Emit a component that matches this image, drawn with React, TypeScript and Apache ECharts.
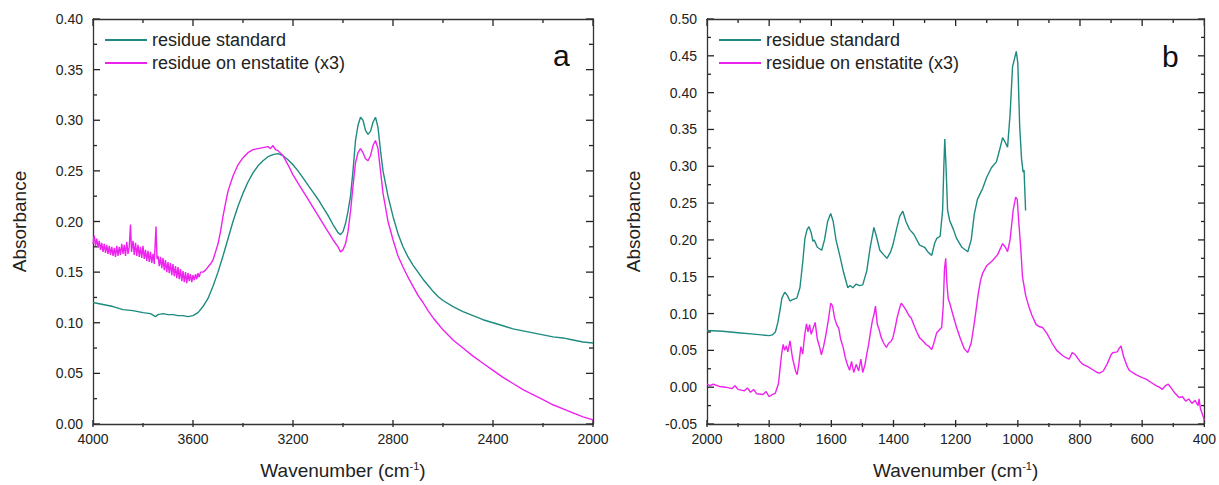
import React, { useEffect, useRef } from "react";
import * as echarts from "echarts";

// ---------- DATA ----------
const seriesNames = ["residue standard", "residue on enstatite (x3)"];
const panelLabels = ["a", "b"];

// Panel a: 4000–2000 cm-1, [wavenumber, absorbance]
const aStandard: [number, number][] = [
  [4000, 0.120], [3960, 0.118], [3920, 0.116], [3880, 0.113], [3840, 0.112], [3800, 0.110],
  [3770, 0.109], [3750, 0.106], [3740, 0.108], [3720, 0.109], [3700, 0.108], [3680, 0.108],
  [3660, 0.107], [3640, 0.107], [3620, 0.106], [3600, 0.107], [3580, 0.110], [3560, 0.116],
  [3540, 0.124], [3520, 0.136], [3500, 0.150], [3480, 0.166], [3460, 0.183], [3440, 0.200],
  [3420, 0.215], [3400, 0.228], [3380, 0.239], [3360, 0.248], [3340, 0.255], [3320, 0.260],
  [3300, 0.264], [3280, 0.266], [3260, 0.267], [3240, 0.265], [3220, 0.261], [3200, 0.256],
  [3180, 0.250], [3160, 0.243], [3140, 0.236], [3120, 0.229], [3100, 0.222], [3080, 0.214],
  [3060, 0.206], [3040, 0.197], [3020, 0.189], [3010, 0.187], [3000, 0.190], [2990, 0.198],
  [2980, 0.210], [2970, 0.225], [2960, 0.250], [2950, 0.280], [2940, 0.295], [2930, 0.303],
  [2920, 0.300], [2910, 0.290], [2900, 0.286], [2890, 0.289], [2880, 0.298], [2870, 0.303],
  [2860, 0.293], [2850, 0.270], [2840, 0.250], [2820, 0.225], [2800, 0.205], [2780, 0.188],
  [2760, 0.175], [2740, 0.165], [2720, 0.157], [2700, 0.150], [2680, 0.143], [2660, 0.137],
  [2640, 0.131], [2620, 0.126], [2600, 0.122], [2560, 0.116], [2520, 0.111], [2480, 0.107],
  [2440, 0.103], [2400, 0.100], [2360, 0.097], [2320, 0.094], [2280, 0.092], [2240, 0.090],
  [2200, 0.088], [2160, 0.086], [2120, 0.085], [2080, 0.083], [2040, 0.081], [2000, 0.080],
];

const aEnstatite: [number, number][] = [
  [4000, 0.178], [3995, 0.186], [3990, 0.176], [3985, 0.183], [3980, 0.174], [3975, 0.181],
  [3970, 0.172], [3965, 0.179], [3960, 0.170], [3955, 0.178], [3950, 0.169], [3945, 0.177],
  [3940, 0.168], [3935, 0.176], [3930, 0.167], [3925, 0.175], [3920, 0.166], [3915, 0.174],
  [3910, 0.165], [3905, 0.176], [3900, 0.166], [3895, 0.175], [3890, 0.167], [3885, 0.178],
  [3880, 0.168], [3875, 0.177], [3870, 0.166], [3865, 0.180], [3860, 0.168], [3855, 0.175],
  [3850, 0.197], [3846, 0.170], [3840, 0.181], [3835, 0.167], [3830, 0.179], [3825, 0.166],
  [3820, 0.177], [3815, 0.165], [3810, 0.175], [3805, 0.164], [3800, 0.176], [3795, 0.163],
  [3790, 0.172], [3785, 0.161], [3780, 0.171], [3775, 0.160], [3770, 0.170], [3765, 0.159],
  [3760, 0.168], [3755, 0.158], [3748, 0.195], [3744, 0.163], [3740, 0.166], [3735, 0.156],
  [3730, 0.165], [3725, 0.154], [3720, 0.164], [3715, 0.152], [3710, 0.162], [3705, 0.150],
  [3700, 0.160], [3695, 0.149], [3690, 0.159], [3685, 0.147], [3680, 0.158], [3675, 0.146],
  [3670, 0.156], [3665, 0.144], [3660, 0.155], [3655, 0.143], [3650, 0.153], [3645, 0.141],
  [3640, 0.151], [3635, 0.140], [3630, 0.150], [3625, 0.139], [3620, 0.149], [3615, 0.141],
  [3610, 0.148], [3605, 0.140], [3600, 0.147], [3595, 0.142], [3590, 0.148], [3585, 0.143],
  [3580, 0.149], [3575, 0.145], [3570, 0.150], [3560, 0.150], [3550, 0.152],
  [3540, 0.155], [3530, 0.158], [3520, 0.162], [3510, 0.170], [3500, 0.178], [3490, 0.190],
  [3480, 0.205], [3470, 0.218], [3460, 0.230], [3440, 0.245], [3420, 0.256], [3400, 0.263],
  [3380, 0.268], [3360, 0.271], [3340, 0.272], [3320, 0.273], [3300, 0.274], [3290, 0.272],
  [3280, 0.275], [3270, 0.271], [3260, 0.270], [3240, 0.265], [3220, 0.256], [3200, 0.246],
  [3180, 0.238], [3160, 0.230], [3140, 0.222], [3120, 0.214], [3100, 0.206], [3080, 0.198],
  [3060, 0.190], [3040, 0.182], [3020, 0.175], [3010, 0.170], [3000, 0.172], [2990, 0.178],
  [2980, 0.190], [2970, 0.210], [2960, 0.235], [2950, 0.258], [2940, 0.268], [2930, 0.272],
  [2920, 0.268], [2910, 0.262], [2900, 0.260], [2890, 0.265], [2880, 0.275], [2870, 0.280],
  [2860, 0.272], [2850, 0.250], [2840, 0.228], [2820, 0.200], [2800, 0.182], [2780, 0.166],
  [2760, 0.155], [2740, 0.145], [2720, 0.136], [2700, 0.127], [2680, 0.120], [2660, 0.112],
  [2640, 0.105], [2620, 0.099], [2600, 0.093], [2560, 0.083], [2520, 0.075], [2480, 0.067],
  [2440, 0.060], [2400, 0.053], [2360, 0.046], [2320, 0.040], [2280, 0.034], [2240, 0.029],
  [2200, 0.024], [2160, 0.019], [2120, 0.015], [2080, 0.011], [2040, 0.007], [2000, 0.004],
];

// Panel b: 2000–400 cm-1
const bStandard: [number, number][] = [
  [2000, 0.077], [1950, 0.076], [1900, 0.074], [1850, 0.072], [1800, 0.070], [1790, 0.071],
  [1780, 0.075], [1772, 0.088], [1765, 0.105], [1759, 0.121], [1750, 0.129], [1742, 0.125],
  [1733, 0.117], [1725, 0.119], [1711, 0.121], [1701, 0.135], [1692, 0.170], [1685, 0.202],
  [1678, 0.214], [1672, 0.218], [1665, 0.210], [1659, 0.198], [1655, 0.200], [1645, 0.190],
  [1631, 0.186], [1622, 0.200], [1612, 0.225], [1602, 0.236], [1594, 0.225], [1585, 0.200],
  [1573, 0.179], [1560, 0.155], [1547, 0.135], [1540, 0.138], [1531, 0.135], [1520, 0.140],
  [1510, 0.138], [1499, 0.139], [1486, 0.158], [1475, 0.190], [1463, 0.217], [1455, 0.205],
  [1444, 0.186], [1432, 0.180], [1421, 0.175], [1410, 0.183], [1402, 0.193], [1390, 0.215],
  [1380, 0.232], [1370, 0.239], [1360, 0.225], [1348, 0.214], [1335, 0.208], [1316, 0.193],
  [1300, 0.190], [1290, 0.184], [1277, 0.179], [1268, 0.195], [1261, 0.202], [1250, 0.205],
  [1242, 0.240], [1238, 0.300], [1235, 0.337], [1231, 0.300], [1226, 0.240], [1219, 0.226],
  [1208, 0.215], [1197, 0.202], [1180, 0.190], [1161, 0.184], [1150, 0.200], [1140, 0.235],
  [1130, 0.255], [1113, 0.270], [1100, 0.285], [1085, 0.298], [1069, 0.306], [1060, 0.320],
  [1049, 0.339], [1040, 0.332], [1033, 0.326], [1025, 0.370], [1017, 0.435], [1005, 0.456],
  [1000, 0.440], [994, 0.354], [988, 0.310], [983, 0.292], [980, 0.295], [975, 0.240],
];

const bEnstatite: [number, number][] = [
  [2000, 0.004], [1990, 0.002], [1980, 0.004], [1960, 0.001], [1940, 0.000], [1920, -0.002],
  [1910, 0.002], [1900, -0.003], [1880, -0.005], [1870, -0.001], [1860, -0.007], [1850, -0.003],
  [1840, -0.009], [1820, -0.010], [1810, -0.006], [1800, -0.013], [1790, -0.010], [1780, -0.008],
  [1770, 0.005], [1760, 0.045], [1755, 0.058], [1750, 0.050], [1745, 0.056], [1740, 0.048],
  [1733, 0.063], [1725, 0.040], [1715, 0.022], [1710, 0.017], [1705, 0.030], [1698, 0.055],
  [1692, 0.045], [1686, 0.070], [1680, 0.086], [1675, 0.075], [1670, 0.085], [1665, 0.072],
  [1660, 0.078], [1652, 0.088], [1645, 0.065], [1638, 0.055], [1632, 0.044], [1625, 0.055],
  [1618, 0.070], [1610, 0.090], [1602, 0.114], [1596, 0.110], [1590, 0.095], [1583, 0.085],
  [1576, 0.080], [1570, 0.065], [1562, 0.054], [1555, 0.040], [1548, 0.030], [1541, 0.023],
  [1535, 0.035], [1528, 0.020], [1520, 0.031], [1512, 0.022], [1505, 0.038], [1499, 0.020],
  [1492, 0.030], [1486, 0.045], [1480, 0.058], [1474, 0.075], [1468, 0.090], [1462, 0.100],
  [1458, 0.110], [1452, 0.085], [1446, 0.078], [1440, 0.068], [1432, 0.060], [1423, 0.054],
  [1415, 0.060], [1408, 0.062], [1402, 0.067], [1395, 0.080], [1388, 0.095], [1380, 0.108],
  [1375, 0.114], [1368, 0.110], [1360, 0.105], [1350, 0.097], [1343, 0.094], [1335, 0.085],
  [1325, 0.075], [1316, 0.067], [1306, 0.063], [1295, 0.058], [1285, 0.055], [1277, 0.051],
  [1270, 0.060], [1261, 0.074], [1250, 0.079], [1245, 0.081], [1240, 0.110], [1236, 0.160],
  [1232, 0.175], [1228, 0.140], [1224, 0.120], [1219, 0.114], [1210, 0.100], [1197, 0.081],
  [1185, 0.066], [1172, 0.052], [1161, 0.047], [1150, 0.060], [1139, 0.090], [1128, 0.125],
  [1120, 0.145], [1113, 0.155], [1100, 0.165], [1081, 0.172], [1065, 0.180], [1049, 0.195],
  [1040, 0.190], [1033, 0.184], [1025, 0.200], [1015, 0.240], [1007, 0.258], [1002, 0.255],
  [997, 0.225], [990, 0.185], [985, 0.150], [975, 0.125], [965, 0.110], [955, 0.098],
  [941, 0.085], [930, 0.082], [920, 0.081], [905, 0.072], [890, 0.060], [875, 0.050],
  [856, 0.043], [845, 0.040], [835, 0.038], [825, 0.047], [815, 0.044], [800, 0.035],
  [791, 0.031], [775, 0.028], [760, 0.024], [745, 0.020], [737, 0.019], [725, 0.022],
  [712, 0.032], [700, 0.044], [694, 0.047], [680, 0.048], [675, 0.052], [668, 0.056],
  [660, 0.042], [650, 0.030], [642, 0.023], [620, 0.017], [600, 0.013], [587, 0.011],
  [570, 0.006], [555, 0.002], [545, 0.000], [535, -0.003], [525, 0.002], [516, 0.004],
  [505, -0.002], [495, -0.008], [481, -0.014], [470, -0.013], [460, -0.019], [450, -0.016],
  [440, -0.022], [430, -0.018], [420, -0.025], [417, -0.016], [412, -0.030], [405, -0.038],
  [400, -0.045],
];

// Axis ranges
const aX = { min: 2000, max: 4000, interval: 400 };
const aY = { min: 0, max: 0.4, interval: 0.05 };
const bX = { min: 400, max: 2000, interval: 200 };
const bY = { min: -0.05, max: 0.5, interval: 0.05 };

// ---------- STYLE ----------
const TEAL = "#1e8a80";
const MAGENTA = "#ee22ee";
const AXIS = "#333333";
const FONT = "Liberation Sans, Arial, sans-serif";

type Range = { min: number; max: number; interval: number };

export default function App() {
  const ref = useRef<HTMLDivElement>(null);

  useEffect(() => {
    if (!ref.current) return;
    const chart = echarts.init(ref.current, undefined, { renderer: "svg" });

    const grids = [
      { left: 93, top: 19, width: 500, height: 408 },
      { left: 707, top: 19, width: 498, height: 408 },
    ];

    const axisLineStyle = () => ({ show: true, onZero: false, lineStyle: { color: AXIS, width: 1.3 } });
    const labelStyle = () => ({ color: "#222", fontSize: 14, fontFamily: FONT });

    const makeX = (gi: number, r: Range) => [
      {
        type: "value", gridIndex: gi, inverse: true,
        min: r.min, max: r.max, interval: r.interval,
        axisLine: axisLineStyle(), axisTick: { show: false },
        splitLine: { show: false },
        axisLabel: { ...labelStyle(), margin: 8, formatter: (v: number) => String(v) },
        name: "Wavenumber (cm{sup|-1})",
        nameLocation: "middle",
        nameGap: 36,
        nameTextStyle: {
          fontSize: 19, color: "#222", fontFamily: FONT,
          rich: { sup: { fontSize: 11, verticalAlign: "top", color: "#222", fontFamily: FONT, padding: [0, 0, 10, 0] } },
        },
      },
      {
        type: "value", gridIndex: gi, position: "top", inverse: true,
        min: r.min, max: r.max, interval: r.interval,
        axisLine: axisLineStyle(), axisTick: { show: false },
        splitLine: { show: false }, axisLabel: { show: false },
      },
    ];

    const makeY = (gi: number, r: Range) => [
      {
        type: "value", gridIndex: gi,
        min: r.min, max: r.max, interval: r.interval,
        axisLine: axisLineStyle(), axisTick: { show: false },
        splitLine: { show: false },
        axisLabel: { ...labelStyle(), margin: 10, formatter: (v: number) => v.toFixed(2) },
        name: "Absorbance", nameLocation: "middle", nameGap: 64,
        nameTextStyle: { fontSize: 19, color: "#222", fontFamily: FONT },
      },
      {
        type: "value", gridIndex: gi, position: "right",
        min: r.min, max: r.max, interval: r.interval,
        axisLine: axisLineStyle(), axisTick: { show: false },
        splitLine: { show: false }, axisLabel: { show: false },
      },
    ];

    const lineSeries = (name: string, data: [number, number][], color: string, xi: number, yi: number) => ({
      type: "line", name, data,
      xAxisIndex: xi, yAxisIndex: yi,
      showSymbol: false, symbol: "none",
      lineStyle: { color, width: 1.4 },
      itemStyle: { color },
    });

    const legendBase = (left: number) => ({
      orient: "vertical", top: 26, left, itemWidth: 42, itemHeight: 2, itemGap: 5,
      icon: "rect",
      data: seriesNames,
      textStyle: { fontSize: 18, lineHeight: 14, color: "#222", fontFamily: FONT },
      selectedMode: false,
    });

    const labels = [
      { type: "text", left: 553, top: 40, style: { text: panelLabels[0], fontSize: 30, fill: "#111", fontFamily: FONT } },
      { type: "text", left: 1162, top: 41, style: { text: panelLabels[1], fontSize: 30, fill: "#111", fontFamily: FONT } },
    ];

    chart.setOption({
      animation: false,
      grid: grids,
      xAxis: [...makeX(0, aX), ...makeX(1, bX)],
      yAxis: [...makeY(0, aY), ...makeY(1, bY)],
      legend: [legendBase(100), legendBase(714)],
      series: [
        lineSeries(seriesNames[0], aStandard, TEAL, 0, 0),
        lineSeries(seriesNames[1], aEnstatite, MAGENTA, 0, 0),
        lineSeries(seriesNames[0], bStandard, TEAL, 2, 2),
        lineSeries(seriesNames[1], bEnstatite, MAGENTA, 2, 2),
      ],
      graphic: labels,
    });

    // Inward major/minor ticks on all four sides, positioned through the axes' own scales
    const ticks: any[] = [];
    const tickLine = (x1: number, y1: number, x2: number, y2: number) =>
      ticks.push({ type: "line", silent: true, shape: { x1, y1, x2, y2 }, style: { stroke: "#222", lineWidth: 1.3 } });
    const panels = [
      { g: grids[0], xr: aX, yr: aY, xi: 0, yi: 0 },
      { g: grids[1], xr: bX, yr: bY, xi: 2, yi: 2 },
    ];
    panels.forEach(({ g, xr, yr, xi, yi }) => {
      const top = g.top, bottom = g.top + g.height, left = g.left, right = g.left + g.width;
      const nx = Math.round((xr.max - xr.min) / (xr.interval / 2));
      for (let k = 0; k <= nx; k++) {
        const v = xr.min + (k * xr.interval) / 2;
        const px = chart.convertToPixel({ xAxisIndex: xi }, v) as unknown as number;
        const len = k % 2 === 0 ? 7 : 4;
        tickLine(px, bottom, px, bottom - len);
        tickLine(px, top, px, top + len);
      }
      const ny = Math.round((yr.max - yr.min) / (yr.interval / 2));
      for (let k = 0; k <= ny; k++) {
        const v = yr.min + (k * yr.interval) / 2;
        const py = chart.convertToPixel({ yAxisIndex: yi }, v) as unknown as number;
        const len = k % 2 === 0 ? 7 : 4;
        tickLine(left, py, left + len, py);
        tickLine(right, py, right - len, py);
      }
    });
    chart.setOption({ graphic: [...labels, ...ticks] });

    return () => chart.dispose();
  }, []);

  return (
    <div
      ref={ref}
      style={{ position: "fixed", left: 0, top: 0, width: 1219, height: 485, background: "#fff" }}
    />
  );
}
